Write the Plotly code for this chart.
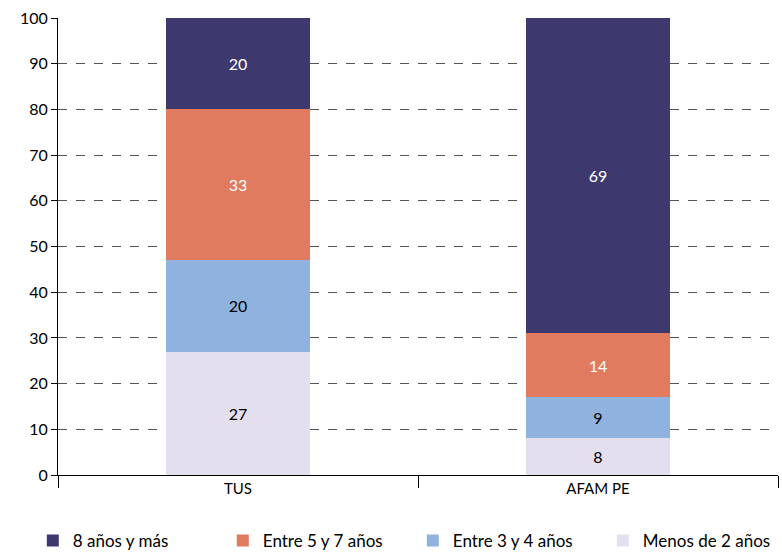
import plotly.graph_objects as go

categories = ["TUS", "AFAM PE"]
menos_2 = [27, 8]
entre_3_4 = [20, 9]
entre_5_7 = [33, 14]
mas_8 = [20, 69]

series = [
    ("Menos de 2 años", menos_2, "#e3dfef", "black"),
    ("Entre 3 y 4 años", entre_3_4, "#8fb2de", "black"),
    ("Entre 5 y 7 años", entre_5_7, "#e07b5f", "white"),
    ("8 años y más", mas_8, "#3d396e", "white"),
]

fig = go.Figure()
for name, vals, color, txtcolor in series:
    fig.add_trace(go.Bar(
        x=categories,
        y=vals,
        name=name,
        marker=dict(color=color, line=dict(width=0)),
        text=[str(v) for v in vals],
        textposition="inside",
        insidetextanchor="middle",
        textfont=dict(color=txtcolor, size=16),
    ))

fig.update_layout(
    barmode="stack",
    bargap=0.6,
    width=782,
    height=559,
    margin=dict(l=58, r=4, t=18, b=84, autoexpand=False),
    plot_bgcolor="white",
    paper_bgcolor="white",
    font=dict(family="Lato", size=15, color="black"),
    showlegend=True,
    legend=dict(
        orientation="h",
        traceorder="reversed",
        x=-0.035,
        xanchor="left",
        y=-0.105,
        yanchor="top",
        font=dict(size=17),
        entrywidth=145,
        itemwidth=30,
    ),
    uniformtext=dict(mode="show", minsize=10),
)

fig.update_xaxes(
    automargin=False,
    showline=True,
    linecolor="black",
    linewidth=1,
    ticks="outside",
    ticklen=12,
    tickcolor="black",
    tickson="boundaries",
    showgrid=False,
    tickfont=dict(size=15),
)
fig.update_yaxes(
    automargin=False,
    range=[0, 100],
    dtick=10,
    showline=True,
    linecolor="black",
    linewidth=1,
    ticks="outside",
    ticklen=6,
    tickcolor="black",
    showgrid=True,
    gridcolor="#555555",
    griddash="dash",
    gridwidth=1,
    zeroline=False,
    tickfont=dict(size=16),
)

fig.write_html(
    "out.html",
    config={"displayModeBar": False},
    post_script="document.body.style.margin='0';",
)
